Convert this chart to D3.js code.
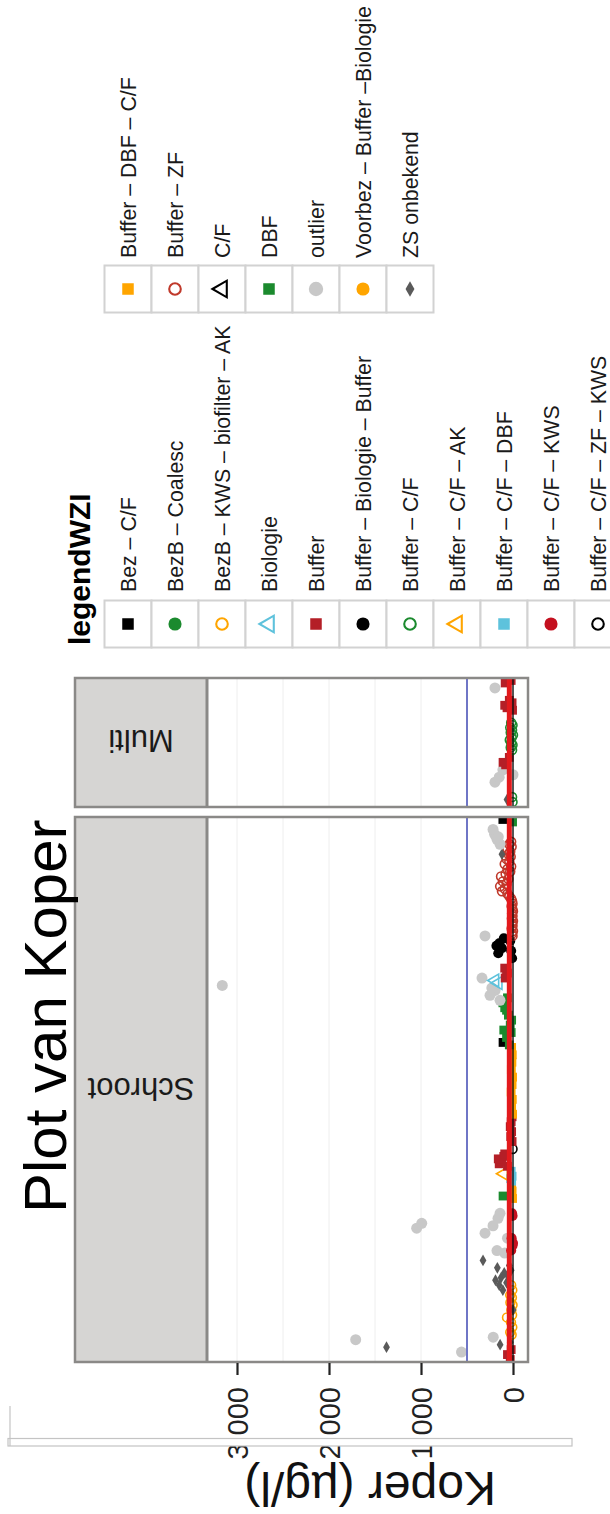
<!DOCTYPE html>
<html>
<head>
<meta charset="utf-8">
<script src="https://cdn.jsdelivr.net/npm/d3@7"></script>
<style>
  html, body { margin: 0; padding: 0; background: #ffffff; }
  svg { display: block; font-family: "Liberation Sans", Arial, sans-serif; }
</style>
</head>
<body>
<script>
// ---- Data -------------------------------------------------------------
const chartTitle = "Plot van Koper";
const valueLabel = "Koper (µg/l)";
const legendTitle = "legendWZI";
const facetNames = ["Schroot", "Multi"];

// Legend categories (two columns: first 11, then 7)
const categories = [
  "Bez – C/F", "BezB – Coalesc", "BezB – KWS – biofilter – AK", "Biologie",
  "Buffer", "Buffer – Biologie – Buffer", "Buffer – C/F", "Buffer – C/F – AK",
  "Buffer – C/F – DBF", "Buffer – C/F – KWS", "Buffer – C/F – ZF – KWS",
  "Buffer – DBF – C/F", "Buffer – ZF", "C/F", "DBF", "outlier",
  "Voorbez – Buffer –Biologie", "ZS onbekend"
];
const categoryColors = [
  "#000000", "#1b8a2e", "#ffa500", "#5ec2dc",
  "#b41f27", "#000000", "#1b8a2e", "#ffa500",
  "#5ec2dc", "#c4101f", "#000000",
  "#ffa500", "#c0392b", "#000000", "#1b8a2e", "#c8c8c8",
  "#ffa500", "#5a5a5a"
];
const categoryShapes = [
  "square", "circle", "circle", "triangle",
  "square", "circle", "circle", "triangle",
  "square", "circle", "circle",
  "square", "circle", "triangle", "square", "circle",
  "circle", "diamond"
];
const categoryFilled = [
  true, true, false, false,
  true, true, false, false,
  true, true, false,
  true, false, false, true, true,
  true, true
];

// Measurements: [sample number, Koper (µg/l), category]
const schrootPoints = [
  [1, 30, "Buffer"], [3, 60, "Buffer"], [5, 20, "Buffer"],
  [4, 560, "outlier"], [9, 1710, "outlier"], [6, 1375, "ZS onbekend"],
  [7, 140, "ZS onbekend"], [10, 215, "outlier"], [8, 30, "ZS onbekend"],
  [11, 15, "BezB – KWS – biofilter – AK"], [12, 30, "BezB – KWS – biofilter – AK"],
  [14, 8, "BezB – KWS – biofilter – AK"], [16, 22, "BezB – KWS – biofilter – AK"],
  [18, 65, "BezB – KWS – biofilter – AK"], [19, 10, "BezB – KWS – biofilter – AK"],
  [21, 18, "BezB – KWS – biofilter – AK"], [23, 5, "BezB – KWS – biofilter – AK"],
  [24, 28, "BezB – KWS – biofilter – AK"], [26, 12, "BezB – KWS – biofilter – AK"],
  [27, 30, "BezB – KWS – biofilter – AK"], [29, 8, "BezB – KWS – biofilter – AK"],
  [31, 20, "BezB – KWS – biofilter – AK"], [21, 0, "ZS onbekend"],
  [29, 110, "ZS onbekend"], [31, 150, "ZS onbekend"], [32, 70, "ZS onbekend"],
  [33, 190, "ZS onbekend"], [34, 130, "ZS onbekend"], [35, 60, "ZS onbekend"],
  [36, 95, "ZS onbekend"], [37, 20, "ZS onbekend"], [38, 170, "ZS onbekend"],
  [39, 40, "ZS onbekend"], [41, 326, "ZS onbekend"],
  [44, 90, "outlier"], [45, 174, "outlier"], [50, 60, "outlier"], [52, 304, "outlier"],
  [55, 217, "outlier"], [58, 163, "outlier"], [60, 141, "outlier"],
  [54, 1047, "outlier"], [56, 992, "outlier"],
  [45, 20, "Buffer – C/F – KWS"], [47, 5, "Buffer – C/F – KWS"], [48, 0, "Buffer – C/F – KWS"],
  [50, 15, "Buffer – C/F – KWS"], [59, 5, "Buffer – C/F – KWS"], [60, 10, "Buffer – C/F – KWS"],
  [66, 5, "Buffer – DBF – C/F"], [69, 10, "Buffer – DBF – C/F"], [71, 15, "Buffer – DBF – C/F"],
  [67, 108, "DBF"],
  [73, 15, "Buffer – C/F – DBF"], [74, 25, "Buffer – C/F – DBF"],
  [75, 10, "Buffer – C/F – DBF"], [77, 20, "Buffer – C/F – DBF"],
  [76, 100, "Buffer – C/F – AK"],
  [79, 60, "Buffer"], [80, 150, "Buffer"], [81, 120, "Buffer"], [82, 160, "Buffer"],
  [83, 100, "Buffer"], [84, 90, "Buffer"],
  [86, 5, "Buffer – C/F – ZF – KWS"],
  [89, 10, "Buffer"], [91, 25, "Buffer"], [93, 15, "Buffer"], [95, 30, "Buffer"],
  [97, 20, "Buffer"], [99, 10, "Buffer"],
  [100, 5, "Buffer – DBF – C/F"], [103, 15, "Buffer – DBF – C/F"], [106, 8, "Buffer – DBF – C/F"],
  [109, 20, "Buffer – DBF – C/F"], [112, 10, "Buffer – DBF – C/F"], [115, 5, "Buffer – DBF – C/F"],
  [118, 18, "Buffer – DBF – C/F"], [121, 12, "Buffer – DBF – C/F"], [124, 8, "Buffer – DBF – C/F"],
  [127, 15, "Buffer – DBF – C/F"],
  [129, 108, "Bez – C/F"],
  [128, 40, "DBF"], [131, 70, "DBF"], [133, 20, "DBF"], [134, 100, "DBF"], [136, 30, "DBF"],
  [138, 15, "DBF"], [140, 50, "DBF"], [142, 70, "DBF"], [143, 90, "DBF"], [145, 110, "DBF"],
  [147, 60, "DBF"],
  [146, 141, "outlier"], [148, 250, "outlier"], [150, 195, "outlier"], [151, 230, "outlier"],
  [155, 337, "outlier"], [152, 3160, "outlier"],
  [153, 160, "Biologie"], [154, 196, "Biologie"],
  [155, 85, "Buffer"], [157, 60, "Buffer"], [158, 70, "Buffer"], [159, 90, "Buffer"],
  [163, 10, "Buffer – Biologie – Buffer"], [165, 160, "Buffer – Biologie – Buffer"],
  [166, 20, "Buffer – Biologie – Buffer"], [167, 120, "Buffer – Biologie – Buffer"],
  [168, 180, "Buffer – Biologie – Buffer"], [169, 150, "Buffer – Biologie – Buffer"],
  [170, 30, "Buffer – Biologie – Buffer"], [171, 100, "Buffer – Biologie – Buffer"],
  [172, 304, "outlier"],
  [172, 5, "Buffer – ZF"], [173, 10, "Buffer – ZF"], [174, 0, "Buffer – ZF"], [175, 15, "Buffer – ZF"],
  [176, 5, "Buffer – ZF"], [177, 8, "Buffer – ZF"], [178, 0, "Buffer – ZF"], [179, 12, "Buffer – ZF"],
  [180, 5, "Buffer – ZF"], [181, 10, "Buffer – ZF"], [182, 0, "Buffer – ZF"], [183, 8, "Buffer – ZF"],
  [184, 15, "Buffer – ZF"], [185, 5, "Buffer – ZF"], [186, 10, "Buffer – ZF"], [187, 20, "Buffer – ZF"],
  [188, 40, "Buffer – ZF"], [189, 60, "Buffer – ZF"], [190, 120, "Buffer – ZF"], [191, 90, "Buffer – ZF"],
  [192, 140, "Buffer – ZF"], [193, 70, "Buffer – ZF"], [194, 110, "Buffer – ZF"], [195, 50, "Buffer – ZF"],
  [196, 130, "Buffer – ZF"], [197, 80, "Buffer – ZF"], [198, 30, "Buffer – ZF"], [199, 60, "Buffer – ZF"],
  [200, 20, "Buffer – ZF"], [201, 90, "Buffer – ZF"], [202, 40, "Buffer – ZF"], [203, 70, "Buffer – ZF"],
  [204, 25, "Buffer – ZF"], [205, 50, "Buffer – ZF"], [206, 30, "Buffer – ZF"], [207, 60, "Buffer – ZF"],
  [208, 15, "Buffer – ZF"], [209, 40, "Buffer – ZF"], [210, 20, "Buffer – ZF"],
  [205, 120, "ZS onbekend"],
  [209, 141, "outlier"], [211, 174, "outlier"], [212, 160, "outlier"], [213, 200, "outlier"],
  [215, 217, "outlier"],
  [218, 5, "DBF"], [219, 110, "Bez – C/F"]
];

const multiPoints = [
  [2, 5, "Buffer – C/F"], [3, 65, "ZS onbekend"], [4, 10, "Buffer – C/F"],
  [10, 196, "outlier"], [12, 150, "outlier"], [13, 0, "outlier"], [15, 110, "outlier"],
  [17, 80, "Buffer"], [18, 108, "Buffer"], [20, 40, "Buffer"],
  [23, 10, "Buffer – C/F"], [24, 25, "Buffer – C/F"], [25, 5, "Buffer – C/F"],
  [26, 20, "Buffer – C/F"], [27, 35, "Buffer – C/F"], [28, 15, "Buffer – C/F"],
  [29, 0, "Buffer – C/F"], [30, 25, "Buffer – C/F"], [31, 10, "Buffer – C/F"],
  [32, 30, "Buffer – C/F"], [33, 5, "Buffer – C/F"], [34, 20, "Buffer – C/F"],
  [39, 5, "Buffer"], [40, 65, "Buffer"], [41, 90, "Buffer"], [42, 10, "Buffer"],
  [43, 40, "Buffer"],
  [48, 196, "outlier"],
  [50, 85, "Buffer"], [51, 20, "Buffer"], [52, 50, "Buffer"]
];

const sampleDomains = { "Schroot": [0, 220], "Multi": [0, 52] };
const valueTicks = [0, 1000, 2000, 3000];
const gridValues = [0, 500, 1000, 1500, 2000, 2500, 3000];
const normLine = 500;     // blue reference
const medianLine = 40;    // red line
const zeroLine = 0;       // black line

// ---- Layout -------------------------------------------------------------
const W = 610, H = 1514;
const panelLeft = 75, stripRight = 207, panelRight = 528;
const panelBox = {
  "Schroot": { top: 817, bottom: 1362 },
  "Multi":   { top: 678, bottom: 807 }
};

const svg = d3.select("body").append("svg")
  .attr("width", W).attr("height", H);

const x = d3.scaleLinear().domain([0, 3000]).range([513, 237]);

const symbolType = {
  circle: d3.symbolCircle, square: d3.symbolSquare,
  triangle: d3.symbolTriangle, diamond: d3.symbolDiamond
};
const catIndex = new Map(categories.map((c, i) => [c, i]));

function drawSymbol(sel, cat, scale) {
  const i = catIndex.get(cat);
  const shape = categoryShapes[i];
  const filled = categoryFilled[i];
  let size = { circle: 80, square: 78, triangle: 70, diamond: 40 }[shape] * scale;
  if (!filled && shape === "circle") size = 62 * scale;
  if (cat === "outlier") size = 95 * scale;
  sel.append("path")
    .attr("d", d3.symbol(symbolType[shape], size)())
    .attr("transform", shape === "triangle" ? "rotate(-90)" : null)
    .attr("fill", filled ? categoryColors[i] : "none")
    .attr("stroke", filled ? "none" : categoryColors[i])
    .attr("stroke-width", filled ? 0 : 1.6 * Math.sqrt(scale));
}

const defs = svg.append("defs");

facetNames.forEach(name => {
  const box = panelBox[name];
  const y = d3.scaleLinear().domain(sampleDomains[name]).range([box.bottom, box.top]);
  const pts = name === "Schroot" ? schrootPoints : multiPoints;
  const g = svg.append("g");

  // strip
  g.append("rect")
    .attr("x", panelLeft).attr("y", box.top)
    .attr("width", stripRight - panelLeft).attr("height", box.bottom - box.top)
    .attr("fill", "#d6d5d3");

  // plot area
  g.append("rect")
    .attr("x", stripRight).attr("y", box.top)
    .attr("width", panelRight - stripRight).attr("height", box.bottom - box.top)
    .attr("fill", "#ffffff");

  g.selectAll("line.grid").data(gridValues).enter().append("line")
    .attr("class", "grid")
    .attr("x1", d => x(d)).attr("x2", d => x(d))
    .attr("y1", box.top).attr("y2", box.bottom)
    .attr("stroke", "#eeeeee").attr("stroke-width", 1);

  const clipId = "clip-" + name;
  defs.append("clipPath").attr("id", clipId).append("rect")
    .attr("x", stripRight + 1).attr("y", box.top)
    .attr("width", panelRight - stripRight - 1).attr("height", box.bottom - box.top);

  const pg = g.append("g").attr("clip-path", `url(#${clipId})`);
  pts.forEach(p => {
    const s = pg.append("g").attr("transform", `translate(${x(p[1])},${y(p[0])})`);
    drawSymbol(s, p[2], 1);
  });

  // reference lines
  pg.append("line")
    .attr("x1", x(normLine)).attr("x2", x(normLine))
    .attr("y1", box.top).attr("y2", box.bottom)
    .attr("stroke", "#6f76c6").attr("stroke-width", 2);
  pg.append("line")
    .attr("x1", x(medianLine)).attr("x2", x(medianLine))
    .attr("y1", box.top).attr("y2", box.bottom)
    .attr("stroke", "#e3191c").attr("stroke-width", 5);
  pg.append("line")
    .attr("x1", x(zeroLine)).attr("x2", x(zeroLine))
    .attr("y1", box.top).attr("y2", box.bottom)
    .attr("stroke", "#111111").attr("stroke-width", 1.4);

  // borders
  g.append("line")
    .attr("x1", stripRight).attr("x2", stripRight)
    .attr("y1", box.top).attr("y2", box.bottom)
    .attr("stroke", "#8a8987").attr("stroke-width", 3);
  g.append("rect")
    .attr("x", panelLeft).attr("y", box.top)
    .attr("width", panelRight - panelLeft).attr("height", box.bottom - box.top)
    .attr("fill", "none").attr("stroke", "#8a8987").attr("stroke-width", 2.5);

  // strip label (upside down)
  const capTop = name === "Schroot" ? 1078 : 730;
  g.append("text")
    .attr("transform", `translate(${(panelLeft + stripRight) / 2},${capTop}) rotate(180)`)
    .attr("text-anchor", "middle")
    .attr("font-size", 31)
    .attr("fill", "#1a1a1a")
    .text(name);
});

// value axis under the Schroot panel
const fmt = d3.formatLocale({ decimal: ",", thousands: " ", grouping: [3], currency: ["", ""] }).format(",");
const axisG = svg.append("g")
  .attr("transform", `translate(0,${panelBox["Schroot"].bottom + 1})`)
  .call(d3.axisBottom(x).tickValues(valueTicks).tickSize(12).tickFormat(fmt));
axisG.select(".domain").remove();
axisG.selectAll(".tick line").attr("stroke", "#222").attr("stroke-width", 2.2);
axisG.selectAll(".tick text")
  .attr("transform", "rotate(-90)")
  .attr("x", -24).attr("y", 10.5).attr("dy", null)
  .attr("text-anchor", "end")
  .attr("font-size", 29)
  .attr("font-family", "Liberation Sans, Arial, sans-serif")
  .attr("fill", "#222");

// value axis title (upside down)
svg.append("text")
  .attr("transform", "translate(496,1472) rotate(180)")
  .attr("text-anchor", "start")
  .attr("font-size", 48)
  .attr("fill", "#111")
  .text(valueLabel);

// thin frame line across the axis labels
svg.append("rect")
  .attr("x", 8).attr("y", 1438.5).attr("width", 564).attr("height", 7.5)
  .attr("fill", "#ffffff").attr("stroke", "#c4c4c4").attr("stroke-width", 1.2);
svg.append("line")
  .attr("x1", 10).attr("x2", 10).attr("y1", 1406).attr("y2", 1446)
  .attr("stroke", "#c4c4c4").attr("stroke-width", 1.2);

// chart title
svg.append("text")
  .attr("transform", "translate(66,1213) rotate(-90)")
  .attr("font-size", 60)
  .attr("fill", "#000")
  .text(chartTitle);

// ---- Legend -------------------------------------------------------------
const keyW = 47, keyLeft = 104.5;
const legendCols = [
  { items: categories.slice(0, 11), top: 600.5, labelBase: 592 },
  { items: categories.slice(11), top: 265.5, labelBase: 258 }
];

svg.append("text")
  .attr("transform", "translate(90,645) rotate(-90)")
  .attr("font-size", 30)
  .attr("font-weight", "bold")
  .attr("fill", "#000")
  .text(legendTitle);

legendCols.forEach(col => {
  const lg = svg.append("g");
  col.items.forEach((cat, k) => {
    const cx = keyLeft + k * keyW + keyW / 2;
    lg.append("rect")
      .attr("x", keyLeft + k * keyW).attr("y", col.top)
      .attr("width", keyW).attr("height", 47)
      .attr("fill", "#ffffff").attr("stroke", "#d2d2d2").attr("stroke-width", 2);
    const s = lg.append("g").attr("transform", `translate(${cx},${col.top + 23.5})`);
    drawSymbol(s, cat, 1.7);
    lg.append("text")
      .attr("transform", `translate(${cx + 8},${col.labelBase}) rotate(-90)`)
      .attr("font-size", 21.3)
      .attr("fill", "#1a1a1a")
      .text(cat);
  });
});
</script>
</body>
</html>
